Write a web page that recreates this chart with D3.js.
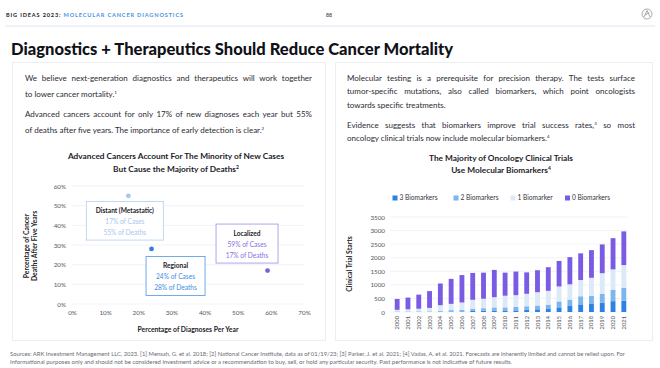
<!DOCTYPE html>
<html>
<head>
<meta charset="utf-8">
<script src="https://cdn.jsdelivr.net/npm/d3@7"></script>
<style>
  html, body { margin: 0; padding: 0; background: #fff; }
  #page { position: relative; width: 660px; height: 368px; overflow: hidden; font-family: Lato, "Noto Sans", sans-serif; }
  #page svg { position: absolute; left: 0; top: 0; }
  .para { position: absolute; font-size: 8px; color: #2b2b33; }
  .para div { height: 13.5px; line-height: 13.5px; white-space: nowrap; }
  .para div.j { text-align: justify; text-align-last: justify; }
  .para sup { font-size: 4.5px; vertical-align: 3px; }
</style>
</head>
<body>
<div id="page"></div>
<script>
// ---- data: left chart (stage of cancer at diagnosis)
const stages = ['Distant (Metastatic)', 'Regional', 'Localized'];
const casesPct = [0.17, 0.24, 0.59];
const deathsPct = [0.55, 0.28, 0.17];
const pctTicks = [0, 0.1, 0.2, 0.3, 0.4, 0.5, 0.6];
const xPctTicks = [0, 0.1, 0.2, 0.3, 0.4, 0.5, 0.6, 0.7];

// ---- data: right chart (oncology clinical trial starts)
const years = ['2000', '2001', '2002', '2003', '2004', '2005', '2006', '2007', '2008', '2009', '2010',
    '2011', '2012', '2013', '2014', '2015', '2016', '2017', '2018', '2019', '2020', '2021'];
const seriesNames = ['3 Biomarkers', '2 Biomarkers', '1 Biomarker', '0 Biomarkers'];
const threeBio = [5, 5, 5, 5, 10, 15, 20, 40, 45, 55, 55, 60, 80, 100, 110, 170, 220, 280, 295, 340, 400, 410];
const twoBio = [15, 15, 20, 20, 30, 55, 60, 80, 95, 115, 115, 130, 130, 140, 160, 220, 240, 300, 305, 330, 420, 475];
const oneBio = [60, 80, 95, 125, 210, 230, 270, 330, 350, 375, 430, 430, 460, 490, 510, 550, 560, 600, 660, 760, 750, 845];
const zeroBio = [400, 430, 520, 620, 800, 920, 1010, 990, 960, 1005, 850, 870, 790, 810, 870, 940, 1000, 980, 1020, 1060, 1150, 1240];
const trialTicks = [0, 500, 1000, 1500, 2000, 2500, 3000, 3500];

const stageColors = ['#a9c6ec', '#2f7fdc', '#7b5fd9'];
const stageBorder = ['#bcd3f0', '#5fa2e6', '#a99ae8'];
const stageText = ['#a9c6ec', '#3d8de2', '#8a70e0'];
const seriesColors = ['#2c82e4', '#7db6ec', '#dce9f8', '#7a5ce4'];

const ink = '#1c1c28';
const grey = '#55555f';

const page = d3.select('#page');
const svg = page.append('svg').attr('width', 660).attr('height', 368);

// ---- header
const hdr = svg.append('text').attr('x', 6).attr('y', 16.5)
    .attr('textLength', 177).attr('lengthAdjust', 'spacing')
    .style('font-size', '5.6px').style('font-weight', 700);
hdr.append('tspan').attr('fill', ink).text('BIG IDEAS 2023: ');
hdr.append('tspan').attr('fill', '#4a93df').text('MOLECULAR CANCER DIAGNOSTICS');

svg.append('text').attr('x', 329).attr('y', 16.5).attr('text-anchor', 'middle')
    .style('font-size', '5.2px').style('font-weight', 700).attr('fill', grey).text('88');

// small logo mark
const logo = svg.append('g').attr('transform', 'translate(647,14)');
logo.append('circle').attr('r', 5).attr('fill', 'none').attr('stroke', '#888').attr('stroke-width', 0.7);
logo.append('path').attr('d', 'M-3,3 L0,-3.5 L3,3 M-2,1 L2.5,-1.5').attr('fill', 'none')
    .attr('stroke', '#888').attr('stroke-width', 0.7);

svg.append('line').attr('x1', 5).attr('x2', 655).attr('y1', 26).attr('y2', 26)
    .attr('stroke', '#dbe7f3').attr('stroke-width', 1);

// ---- title
svg.append('text').attr('x', 11).attr('y', 54.5)
    .attr('textLength', 442).attr('lengthAdjust', 'spacingAndGlyphs')
    .style('font-size', '17px').style('font-weight', 900).attr('fill', '#111118')
    .text('Diagnostics + Therapeutics Should Reduce Cancer Mortality');

// ---- panels
[[12, 325], [335, 652]].forEach(([x0, x1]) => {
    svg.append('rect').attr('x', x0 + 0.5).attr('y', 62.5).attr('width', x1 - x0).attr('height', 278)
        .attr('fill', '#fff').attr('stroke', '#eceef2').attr('stroke-width', 1);
});

// ---- paragraphs (each line justified to match the reference breaks)
function para(left, top, width, lines) {
    const p = page.append('div').attr('class', 'para')
        .style('left', left + 'px').style('top', top + 'px').style('width', width + 'px');
    lines.forEach(l => {
        p.append('div').attr('class', l.last ? '' : 'j').html(l.t);
    });
}
para(25, 72, 287, [
    { t: 'We believe next-generation diagnostics and therapeutics will work together' },
    { t: 'to lower cancer mortality.<sup>1</sup>', last: true }
]);
para(25, 108, 287, [
    { t: 'Advanced cancers account for only 17% of new diagnoses each year but 55%' },
    { t: 'of deaths after five years. The importance of early detection is clear.<sup>2</sup>', last: true }
]);
para(347, 71.5, 288, [
    { t: 'Molecular testing is a prerequisite for precision therapy. The tests surface' },
    { t: 'tumor-specific mutations, also called biomarkers, which point oncologists' },
    { t: 'towards specific treatments.', last: true }
]);
para(347, 116.5, 288, [
    { t: 'Evidence suggests that biomarkers improve trial success rates,<sup>3</sup> so most' },
    { t: 'oncology clinical trials now include molecular biomarkers.<sup>4</sup>', last: true }
]);

// ---- chart titles
function chartTitle(cx, y, l1, l2, sup) {
    const t = svg.append('text').attr('text-anchor', 'middle').attr('fill', ink)
        .style('font-size', '8.3px').style('font-weight', 700);
    t.append('tspan').attr('x', cx).attr('y', y).text(l1);
    t.append('tspan').attr('x', cx).attr('y', y + 12.5).text(l2);
    t.append('tspan').attr('dy', -3).style('font-size', '5px').text(sup);
}
chartTitle(176, 159, 'Advanced Cancers Account For The Minority of New Cases', 'But Cause the Majority of Deaths', '2');
chartTitle(501, 160.5, 'The Majority of Oncology Clinical Trials', 'Use Molecular Biomarkers', '4');

// ================= left chart: scatter =================
const xS = d3.scaleLinear().domain([0, 0.7]).range([72, 304]);
const yS = d3.scaleLinear().domain([0, 0.6]).range([304, 186]);
const pctFmt = d3.format('.0%');

const left = svg.append('g');
left.selectAll('.grid').data(pctTicks).enter().append('line')
    .attr('x1', xS(0)).attr('x2', xS(0.7))
    .attr('y1', d => yS(d)).attr('y2', d => yS(d))
    .attr('stroke', '#eef0f3').attr('stroke-width', 0.8);

const yAx = left.append('g').attr('transform', `translate(${xS(0)},0)`)
    .call(d3.axisLeft(yS).tickValues(pctTicks).tickFormat(pctFmt).tickSize(0).tickPadding(6));
const xAx = left.append('g').attr('transform', `translate(0,${yS(0) + 2})`)
    .call(d3.axisBottom(xS).tickValues(xPctTicks).tickFormat(pctFmt).tickSize(0).tickPadding(5));
[yAx, xAx].forEach(a => {
    a.select('.domain').remove();
    a.selectAll('text').attr('fill', grey).style('font-size', '6.3px').style('font-family', 'Lato, sans-serif');
});

left.append('text').attr('x', xS(0.35)).attr('y', 332).attr('text-anchor', 'middle')
    .attr('fill', ink).style('font-size', '6.8px').style('font-weight', 700)
    .text('Percentage of Diagnoses Per Year');

const yTitle = left.append('text').attr('transform', 'translate(32,246) rotate(-90)')
    .attr('text-anchor', 'middle').attr('fill', ink).style('font-size', '6.8px').style('font-weight', 700);
yTitle.append('tspan').attr('x', 0).attr('y', -3.5).text('Percentage of Cancer');
yTitle.append('tspan').attr('x', 0).attr('y', 5).text('Deaths After Five Years');

// annotation boxes: offset from the point (dx, dy) and size
const boxes = [
    { dx: -3.5, dy: 25, w: 77, h: 38.5 },
    { dx: 24, dy: 27, w: 59, h: 39 },
    { dx: -20.5, dy: -27, w: 62, h: 39 }
];
stages.forEach((s, i) => {
    const px = xS(casesPct[i]), py = yS(deathsPct[i]);
    const b = boxes[i];
    const cx = px + b.dx, cy = py + b.dy;
    const g = left.append('g');
    g.append('rect').attr('x', cx - b.w / 2).attr('y', cy - b.h / 2).attr('width', b.w).attr('height', b.h)
        .attr('fill', '#fff').attr('stroke', stageBorder[i]).attr('stroke-width', 0.9);
    g.append('text').attr('x', cx).attr('y', cy - 7.5).attr('text-anchor', 'middle')
        .attr('fill', ink).style('font-size', '6.6px').style('font-weight', 700).text(s);
    g.append('text').attr('x', cx).attr('y', cy + 3.5).attr('text-anchor', 'middle')
        .attr('fill', stageText[i]).style('font-size', '6.6px')
        .text(`${Math.round(casesPct[i] * 100)}% of Cases`);
    g.append('text').attr('x', cx).attr('y', cy + 14).attr('text-anchor', 'middle')
        .attr('fill', stageText[i]).style('font-size', '6.6px')
        .text(`${Math.round(deathsPct[i] * 100)}% of Deaths`);
});
left.selectAll('.pt').data(stages).enter().append('circle')
    .attr('cx', (d, i) => xS(casesPct[i])).attr('cy', (d, i) => yS(deathsPct[i]))
    .attr('r', 2.4).attr('fill', (d, i) => stageColors[i]);

// ================= right chart: stacked bars =================
const xB = d3.scaleBand().domain(years).range([391.5, 629.5]).paddingInner(0.55).paddingOuter(0.3);
const yB = d3.scaleLinear().domain([0, 3500]).range([312, 217]);

const rows = years.map((y, i) => ({
    year: y,
    '3 Biomarkers': threeBio[i],
    '2 Biomarkers': twoBio[i],
    '1 Biomarker': oneBio[i],
    '0 Biomarkers': zeroBio[i]
}));
const stacked = d3.stack().keys(seriesNames)(rows);

const right = svg.append('g');
right.selectAll('.grid').data(trialTicks).enter().append('line')
    .attr('x1', 390).attr('x2', 628)
    .attr('y1', d => yB(d)).attr('y2', d => yB(d))
    .attr('stroke', '#eef0f3').attr('stroke-width', 0.8);

const yAxB = right.append('g').attr('transform', 'translate(390,0)')
    .call(d3.axisLeft(yB).tickValues(trialTicks).tickFormat(d3.format('d')).tickSize(0).tickPadding(5));
yAxB.select('.domain').remove();
yAxB.selectAll('text').attr('fill', grey).style('font-size', '6.3px').style('font-family', 'Lato, sans-serif');

right.selectAll('.layer').data(stacked).enter().append('g')
    .attr('fill', (d, i) => seriesColors[i])
    .selectAll('rect').data(d => d).enter().append('rect')
    .attr('x', d => xB(d.data.year)).attr('width', xB.bandwidth())
    .attr('y', d => yB(d[1])).attr('height', d => yB(d[0]) - yB(d[1]));

const xAxB = right.append('g').attr('transform', `translate(0,${yB(0) + 2})`)
    .call(d3.axisBottom(xB).tickSize(0).tickPadding(0));
xAxB.select('.domain').remove();
xAxB.selectAll('text').attr('fill', grey).style('font-size', '5.8px').style('font-family', 'Lato, sans-serif')
    .attr('text-anchor', 'end').attr('transform', 'rotate(-90)')
    .attr('x', -2).attr('y', 0).attr('dy', '0.35em');

right.append('text').attr('transform', 'translate(352,264) rotate(-90)')
    .attr('text-anchor', 'middle').attr('fill', ink).style('font-size', '6.8px').style('font-weight', 700)
    .text('Clinical Trial Starts');

// legend
const legX = [395, 456, 513, 567.5];
const leg = right.selectAll('.leg').data(seriesNames).enter().append('g')
    .attr('transform', (d, i) => `translate(${legX[i]},198)`);
leg.append('rect').attr('x', -2.5).attr('y', -2.5).attr('width', 5).attr('height', 5)
    .attr('fill', (d, i) => seriesColors[i]);
leg.append('text').attr('x', 4.5).attr('y', 0).attr('dy', '0.35em')
    .attr('fill', '#33333d').style('font-size', '6.6px').text(d => d);

// ---- footer
const foot = svg.append('g').attr('fill', '#6a6a72').style('font-size', '6.2px');
foot.append('text').attr('x', 10).attr('y', 356).attr('textLength', 615).attr('lengthAdjust', 'spacingAndGlyphs')
    .text('Sources: ARK Investment Management LLC, 2023. [1] Mensah, G. et al. 2018; [2] National Cancer Institute, data as of 01/19/23; [3] Parker, J. et al. 2021; [4] Vadas, A. et al. 2021. Forecasts are inherently limited and cannot be relied upon. For');
foot.append('text').attr('x', 10).attr('y', 364).attr('textLength', 502).attr('lengthAdjust', 'spacingAndGlyphs')
    .text('informational purposes only and should not be considered investment advice or a recommendation to buy, sell, or hold any particular security. Past performance is not indicative of future results.');
</script>
</body>
</html>
